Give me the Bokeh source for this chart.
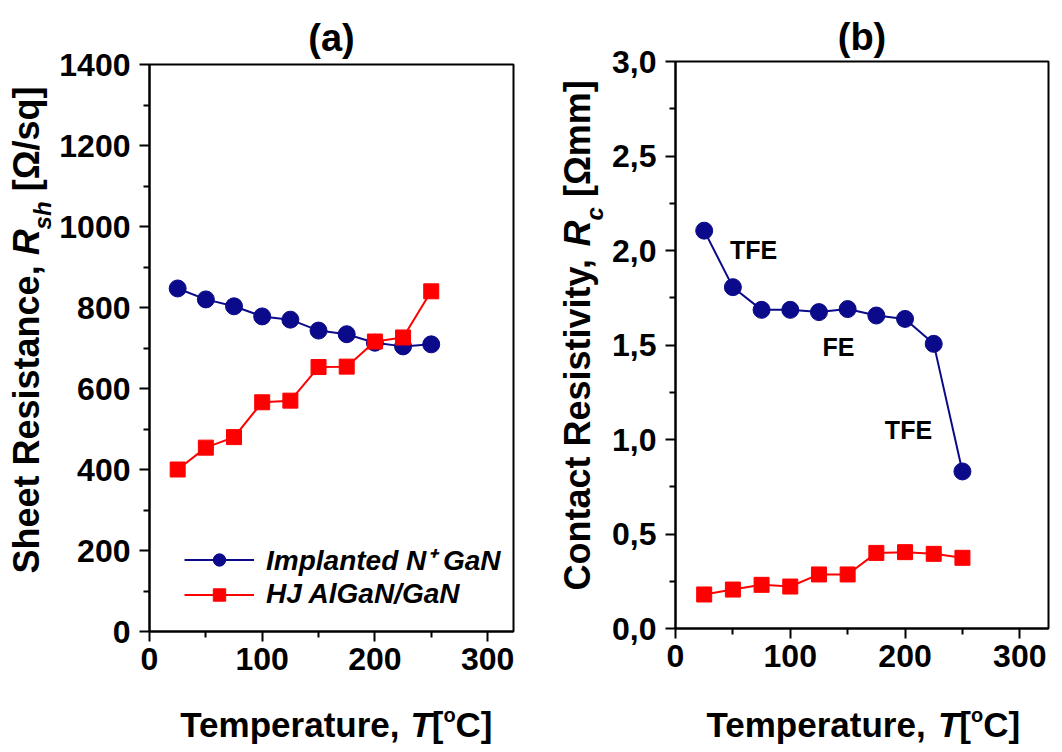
import math
from bokeh.plotting import figure
from bokeh.models import Range1d, FixedTicker, CustomJSTickFormatter, Label
from bokeh.layouts import row, column
from bokeh.embed import file_html
from bokeh.resources import INLINE

# ---------------- data ----------------
temperature = [25, 50, 75, 100, 125, 150, 175, 200, 225, 250]
rsh_implanted = [847, 820, 803, 778, 770, 743, 734, 713, 704, 709]
rsh_hj = [400, 454, 480, 566, 570, 653, 654, 716, 726, 840]
rc_implanted = [2.105, 1.806, 1.686, 1.686, 1.674, 1.690, 1.656, 1.638, 1.506, 0.831]
rc_hj = [0.180, 0.206, 0.231, 0.222, 0.286, 0.286, 0.400, 0.404, 0.395, 0.374]

series_names = ["Implanted N\u207a GaN", "HJ AlGaN/GaN"]
panel_titles = ["(a)", "(b)"]
regime_labels = ["TFE", "FE", "TFE"]
regime_x = [68, 142, 203]
regime_y = [2.005, 1.487, 1.048]

x_ticks = [0, 100, 200, 300]
x_minor = [50, 150, 250]
rsh_ticks = [0, 200, 400, 600, 800, 1000, 1200, 1400]
rsh_minor = [100, 300, 500, 700, 900, 1100, 1300]
rc_ticks = [0.0, 0.5, 1.0, 1.5, 2.0, 2.5, 3.0]
rc_minor = [0.25, 0.75, 1.25, 1.75, 2.25, 2.75]

BLUE = "#0a0a8a"
RED = "#ff0000"
FONT = "Liberation Sans"
MID = 0.3465  # (ascent - descent) / 2 for Liberation Sans, in em

# Arial/Liberation Sans Bold advance widths (per 1000 em)
W = {' ': 278, ',': 278, '.': 278, '[': 333, ']': 333, '/': 278, '(': 333, ')': 333,
     'A': 722, 'B': 722, 'C': 722, 'D': 722, 'E': 667, 'F': 611, 'G': 778, 'H': 722,
     'I': 278, 'J': 556, 'K': 722, 'L': 611, 'M': 833, 'N': 722, 'O': 778, 'P': 667,
     'Q': 778, 'R': 722, 'S': 667, 'T': 611, 'U': 722, 'V': 667, 'W': 944, 'X': 667,
     'Y': 667, 'Z': 611,
     'a': 556, 'b': 611, 'c': 556, 'd': 611, 'e': 556, 'f': 333, 'g': 611, 'h': 611,
     'i': 278, 'j': 278, 'k': 556, 'l': 278, 'm': 889, 'n': 611, 'o': 611, 'p': 611,
     'q': 611, 'r': 389, 's': 556, 't': 333, 'u': 611, 'v': 556, 'w': 778, 'x': 556,
     'y': 556, 'z': 500, '\u03a9': 768}


def tw(s, size):
    return sum(W.get(c, 556) for c in s) * size / 1000.0


def text_fig(w, h, fw, fh, left=0, right=0):
    f = figure(width=w, height=h, x_range=Range1d(0, fw), y_range=Range1d(0, fh),
               x_axis_type=None, y_axis_type=None, output_backend="svg",
               toolbar_location=None, title=None,
               min_border_left=left, min_border_right=right,
               min_border_top=0, min_border_bottom=0)
    f.outline_line_color = None
    f.background_fill_color = "white"
    f.border_fill_color = "white"
    return f


def rich_label(p, pieces, x, y, vertical=False):
    """pieces: (text, size, style, raise); (x, y) = start of the baseline."""
    pos = 0.0
    for text, size, style, rise in pieces:
        lead = len(text) - len(text.lstrip(' '))
        pos += tw(' ' * lead, size)
        body = text.lstrip(' ')
        if vertical:
            lx, ly, ang = x - rise - MID * size, y + pos, math.pi / 2
        else:
            lx, ly, ang = x + pos, y + rise + MID * size, 0
        p.add_layout(Label(x=lx, y=ly, text=body.rstrip(' '), angle=ang, text_font=FONT,
                           text_font_size=f"{size}px", text_font_style=style,
                           text_color="black", text_align="left",
                           text_baseline="middle"))
        pos += tw(body, size)


def center_label(p, text, x, y, size):
    p.add_layout(Label(x=x, y=y, text=text, text_font=FONT, text_font_size=f"{size}px",
                       text_font_style="bold", text_align="center",
                       text_baseline="middle", text_color="black"))


def make_fig(title, standoff, width, height, mb_left, mb_right, mb_top, mb_bottom,
             xmax, ymax, yticks, yminor):
    p = figure(title=title, width=width, height=height,
               x_range=Range1d(0, xmax), y_range=Range1d(0, ymax),
               output_backend="svg", toolbar_location=None,
               min_border_left=mb_left, min_border_right=mb_right,
               min_border_top=mb_top, min_border_bottom=mb_bottom)
    p.title.align = "center"
    p.title.vertical_align = "bottom"
    p.title.standoff = standoff
    p.title.text_font = FONT
    p.title.text_font_size = "38px"
    p.title.text_font_style = "bold"
    p.title.text_color = "black"
    p.grid.visible = False
    p.outline_line_color = "black"
    p.outline_line_width = 2
    p.background_fill_color = "white"
    p.border_fill_color = "white"
    p.xaxis.ticker = FixedTicker(ticks=x_ticks, minor_ticks=x_minor)
    p.yaxis.ticker = FixedTicker(ticks=yticks, minor_ticks=yminor)
    for ax in (p.xaxis[0], p.yaxis[0]):
        ax.axis_line_width = 2
        ax.axis_line_color = "black"
        ax.major_tick_line_width = 2
        ax.minor_tick_line_width = 2
        ax.major_tick_in = 0
        ax.major_tick_out = 10
        ax.minor_tick_in = 0
        ax.minor_tick_out = 6
        ax.major_label_text_font = FONT
        ax.major_label_text_font_size = "32px"
        ax.major_label_text_font_style = "bold"
        ax.major_label_text_color = "black"
    p.xaxis.major_label_standoff = 6
    p.yaxis.major_label_standoff = 9
    return p


def x_label(p, x0):
    rich_label(p, [("Temperature, ", 35, "bold", 0),
                   ("T", 35, "bold italic", 0),
                   ("[", 35, "bold", 0),
                   ("o", 20, "bold", 15),
                   ("C]", 35, "bold", 0)], x0, 16)


# ---------------- panel (a) ----------------
A_YL = 56
A_W = 530 - A_YL
A_L, A_R = 91, 17
A_FW = A_W - A_L - A_R
pa = make_fig(panel_titles[0], 12, A_W, 691, A_L, A_R, 64, 60, 323, 1400, rsh_ticks, rsh_minor)
pa.line(temperature, rsh_implanted, line_color=BLUE, line_width=2, legend_label=series_names[0])
pa.scatter(temperature, rsh_implanted, marker="circle", size=17, fill_color=BLUE,
           line_color=BLUE, legend_label=series_names[0])
pa.line(temperature, rsh_hj, line_color=RED, line_width=2, legend_label=series_names[1])
pa.scatter(temperature, rsh_hj, marker="square", size=15, fill_color=RED,
           line_color=RED, legend_label=series_names[1])
lg = pa.legend[0]
lg.location = (35, 21)
lg.background_fill_alpha = 0
lg.border_line_alpha = 0
lg.padding = 0
lg.margin = 0
lg.glyph_width = 70
lg.glyph_height = 31
lg.label_height = 31
lg.spacing = -1
lg.label_standoff = 12
lg.label_text_font = FONT
lg.label_text_font_size = "28px"
lg.label_text_font_style = "bold italic"
lg.label_text_color = "black"

yl_a = text_fig(A_YL, 752, A_YL, 752)
rich_label(yl_a, [("Sheet Resistance, ", 36, "bold", 0),
                  ("R", 36, "bold italic", 0),
                  ("sh", 24, "bold italic", -12),
                  (" [\u03a9/sq]", 36, "bold", 0)], 38, 179, vertical=True)
xl_a = text_fig(A_W, 61, A_FW, 61, A_L, A_R)
x_label(xl_a, 31)

# ---------------- panel (b) ----------------
B_YL = 78
B_W = 532 - B_YL
B_L, B_R = 67, 14
B_FW = B_W - B_L - B_R
pb = make_fig(panel_titles[1], 8, B_W, 688, B_L, B_R, 61, 60, 325, 3.0, rc_ticks, rc_minor)
pb.yaxis.formatter = CustomJSTickFormatter(code="return tick.toFixed(1).replace('.', ',');")
pb.line(temperature, rc_implanted, line_color=BLUE, line_width=2)
pb.scatter(temperature, rc_implanted, marker="circle", size=17, fill_color=BLUE, line_color=BLUE)
pb.line(temperature, rc_hj, line_color=RED, line_width=2)
pb.scatter(temperature, rc_hj, marker="square", size=15, fill_color=RED, line_color=RED)
for t, xv, yv in zip(regime_labels, regime_x, regime_y):
    center_label(pb, t, xv, yv, 25)

yl_b = text_fig(B_YL, 752, B_YL, 752)
rich_label(yl_b, [("Contact Resistivity, ", 36, "bold", 0),
                  ("R", 36, "bold italic", 0),
                  ("c", 24, "bold italic", -13),
                  (" [\u03a9mm]", 36, "bold", 0)], 59.5, 162, vertical=True)
xl_b = text_fig(B_W, 64, B_FW, 64, B_L, B_R)
x_label(xl_b, 31)

panel_a = row(yl_a, column(pa, xl_a))
panel_b = row(yl_b, column(pb, xl_b))
layout = row(panel_a, panel_b)
open("out.html", "w").write(file_html(layout, INLINE))
